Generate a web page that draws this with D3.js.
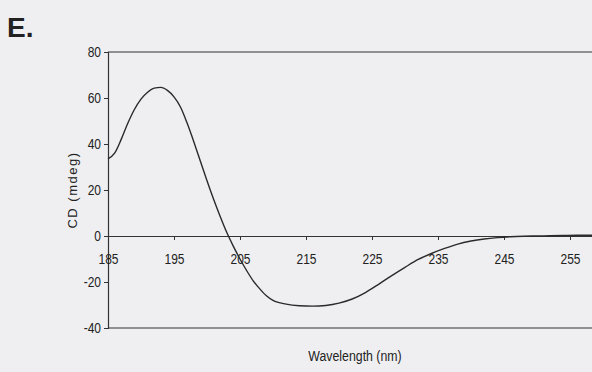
<!DOCTYPE html>
<html>
<head>
<meta charset="utf-8">
<script src="https://cdn.jsdelivr.net/npm/d3@7"></script>
<style>
  html, body { margin: 0; padding: 0; background: #efeff1; overflow: hidden; }
  svg { display: block; }
  text { fill: #222; }
</style>
</head>
<body>
<svg id="chart" width="592" height="372"></svg>
<script>
// CD spectrum: wavelength (nm) and ellipticity (mdeg)
const wavelength = [185,186,187,188,189,190,191,192,193,194,195,196,197,198,199,200,201,202,203,204,205,206,207,208,209,210,212,214,216,218,220,222,224,226,228,230,232,234,236,238,240,242,244,246,248,250,252,254,256,258,260];
const cd = [33.5,36,42,49,55,59.5,62.5,64.3,64.6,63.3,60.5,56,49,41,32.5,24,16,8.5,1.5,-4.5,-10,-15,-19.5,-23,-26,-28,-29.6,-30.3,-30.5,-30.2,-29.2,-27.4,-24.6,-21,-17.2,-13.6,-10.2,-7.6,-5.4,-3.5,-2.2,-1.3,-0.7,-0.3,-0.1,0,0.1,0.2,0.3,0.3,0.3];
const xTicks = [185,195,205,215,225,235,245,255];
const yTicks = [-40,-20,0,20,40,60,80];

const font = "'Liberation Sans', Arial, sans-serif";

// squeeze text horizontally to give a condensed face
function condense(sel, k) {
  sel.each(function () {
    const w = this.getComputedTextLength();
    d3.select(this).attr("textLength", w * k).attr("lengthAdjust", "spacingAndGlyphs");
  });
}

const svg = d3.select("#chart");
const x = d3.scaleLinear().domain([185, 260]).range([108, 603]);
const y = d3.scaleLinear().domain([-40, 80]).range([328, 52]);
const ink = "#333";

// plot frame: top and bottom borders
svg.append("line").attr("x1", x(185)).attr("x2", 600).attr("y1", y(80)).attr("y2", y(80))
  .attr("stroke", ink).attr("stroke-width", 1.2);
svg.append("line").attr("x1", x(185)).attr("x2", 600).attr("y1", y(-40)).attr("y2", y(-40))
  .attr("stroke", ink).attr("stroke-width", 1.2);

// y axis
const yAxis = svg.append("g").attr("transform", `translate(${x(185)},0)`)
  .call(d3.axisLeft(y).tickValues(yTicks).tickSize(4).tickPadding(3).tickFormat(d => String(d)));
yAxis.select(".domain").attr("stroke", ink).attr("stroke-width", 1.2);
yAxis.selectAll(".tick line").attr("stroke", ink);
yAxis.selectAll(".tick text").attr("font-size", 15).attr("fill", "#222")
  .attr("font-family", font).call(condense, 0.8);

// x axis along zero
const xAxis = svg.append("g").attr("transform", `translate(0,${y(0)})`)
  .call(d3.axisBottom(x).tickValues(xTicks).tickSize(4).tickPadding(13).tickSizeOuter(0).tickFormat(d => String(d)));
xAxis.select(".domain").attr("stroke", ink).attr("stroke-width", 1.2);
xAxis.selectAll(".tick line").attr("stroke", ink);
xAxis.selectAll(".tick text").attr("font-size", 15).attr("fill", "#222")
  .attr("font-family", font).call(condense, 0.8);

// spectrum trace
const line = d3.line().x((d, i) => x(wavelength[i])).y(d => y(d)).curve(d3.curveMonotoneX);
svg.append("path").datum(cd).attr("d", line)
  .attr("fill", "none").attr("stroke", "#2a2a2a").attr("stroke-width", 1.4);

// axis titles
svg.append("text").attr("transform", "translate(77,190) rotate(-90)")
  .attr("text-anchor", "middle").attr("font-size", 13).attr("letter-spacing", "1.5")
  .attr("font-family", font)
  .text("CD (mdeg)");
svg.append("text").attr("x", 355).attr("y", 361)
  .attr("text-anchor", "middle").attr("font-size", 14)
  .attr("font-family", font)
  .text("Wavelength (nm)")
  .call(condense, 0.88);

// panel label
svg.append("text").attr("x", 7).attr("y", 37)
  .attr("font-size", 28).attr("font-weight", "bold").attr("fill", "#1a1a1a")
  .attr("font-family", font)
  .text("E.");
</script>
</body>
</html>
